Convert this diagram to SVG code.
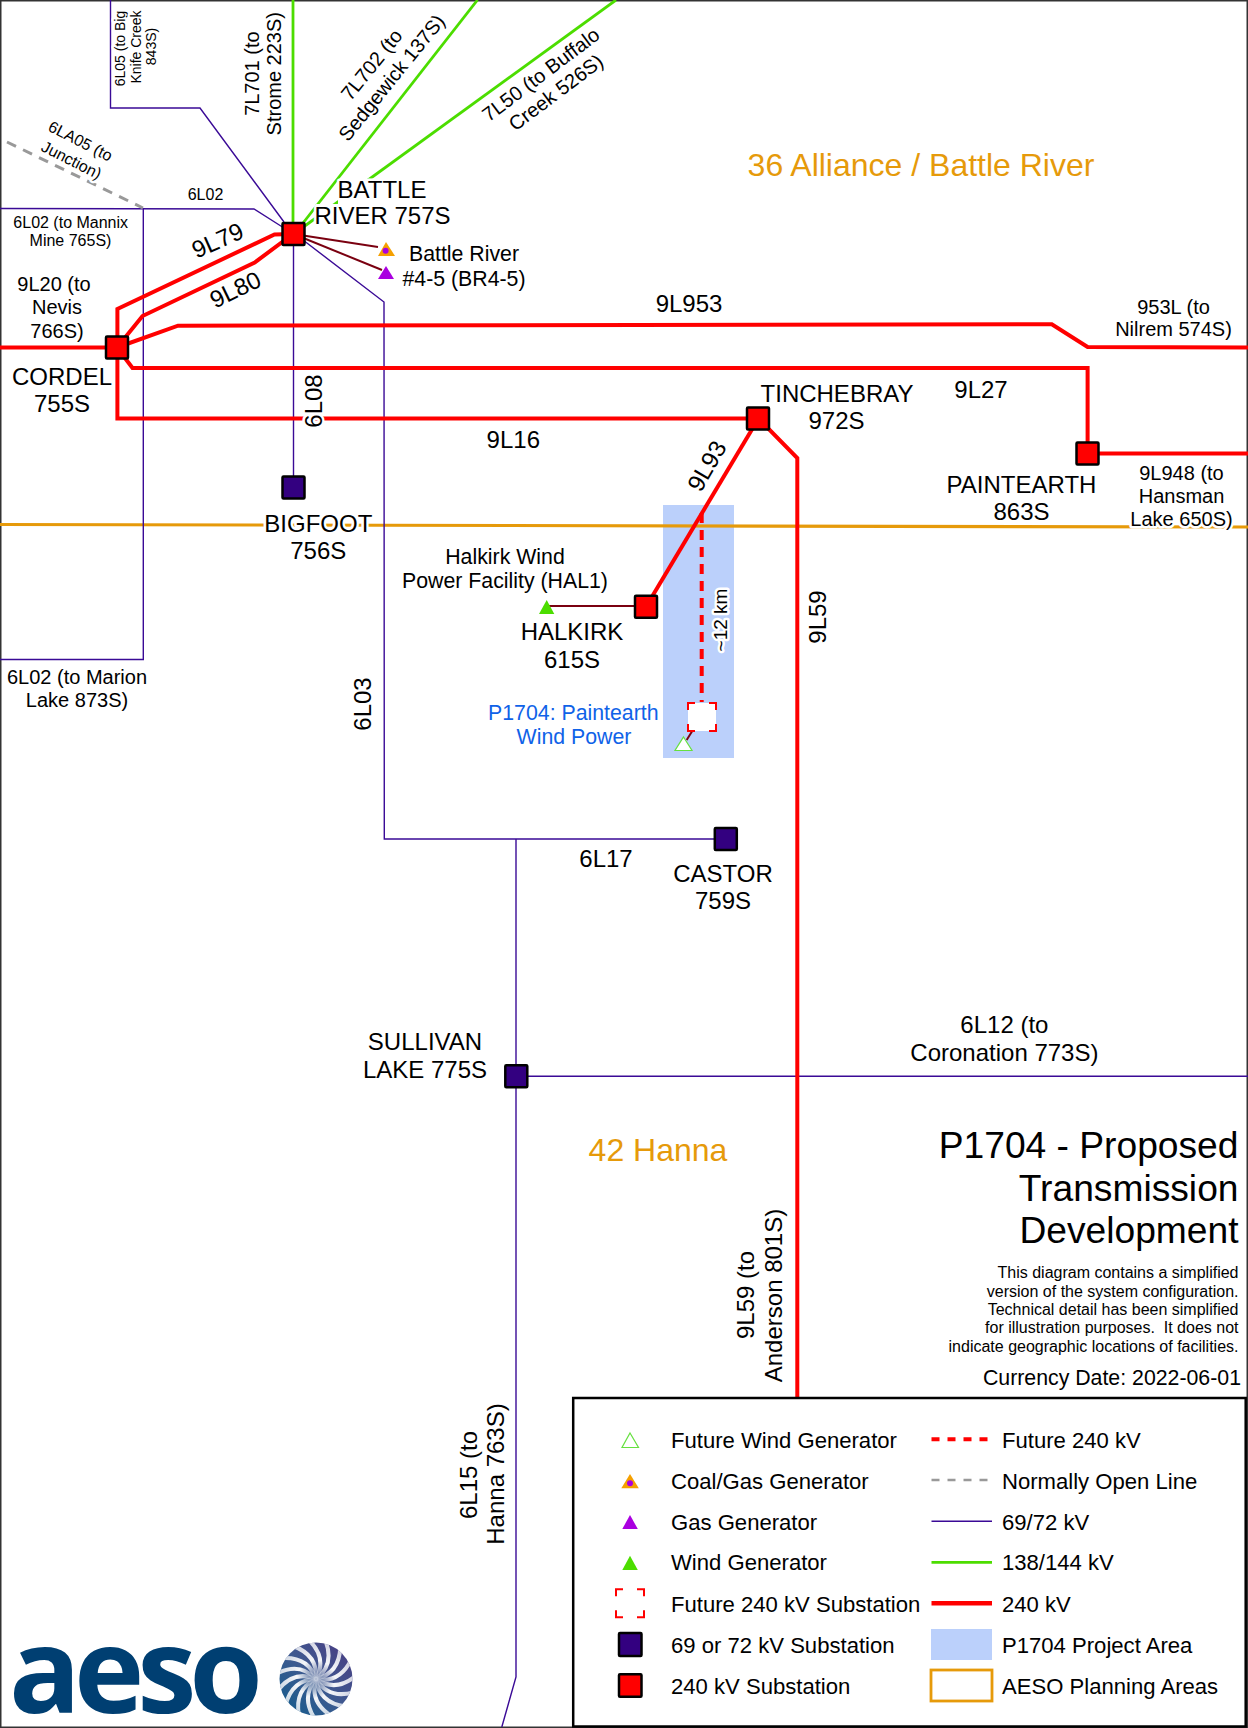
<svg xmlns="http://www.w3.org/2000/svg" width="1248" height="1728" viewBox="0 0 1248 1728">
<style>
text{font-family:"Liberation Sans",Arial,sans-serif;fill:#000;text-anchor:middle;font-size:24px}
.h{paint-order:stroke;stroke:#fff;stroke-width:5px;stroke-linejoin:round}
.s14{font-size:14px}.s16{font-size:16px}.s19{font-size:19px}.s20{font-size:20px}.s21{font-size:21.3px}
.l{text-anchor:start;font-size:22.1px}
.r{text-anchor:end}
.t{font-size:37.2px}
.area{fill:#E69A0A;font-size:32px}
.proj{fill:#0F62E8;font-size:21.3px}
line,polyline{fill:none}
.v240{stroke:#FF0000;stroke-width:4}
.v240f{stroke:#FF0000;stroke-width:4;stroke-dasharray:10 7}
.v138{stroke:#4CDD00;stroke-width:2.8}
.v69{stroke:#3A0A96;stroke-width:1.4}
.no{stroke:#999;stroke-width:3;stroke-dasharray:10 7.8}
.gen{stroke:#7A0010;stroke-width:2}
.bd{stroke:#E69A0A;stroke-width:3.2}
.n240{fill:#FF0000;stroke:#000;stroke-width:2.5}
.n69{fill:#330080;stroke:#000;stroke-width:2.5}
.fc{fill:none;stroke:#FF0000;stroke-width:2}
.twind{fill:#4CDD00}.tgas{fill:#AA00E0}.tcoal{fill:#F5A000}
.tfut{fill:#fff;stroke:#66E040;stroke-width:1.2}
</style>
<defs>
<rect id="sub" x="-11" y="-11" width="22" height="22" rx="1"/>
<path id="fcorn" d="M-14 -7V-14H-7M7 -14H14V-7M14 7V14H7M-7 14H-14V7"/>
<linearGradient id="disc" x1="0" y1="1" x2="1" y2="0"><stop offset="0" stop-color="#0F5C8C"/><stop offset="0.5" stop-color="#3F5A90"/><stop offset="1" stop-color="#4A3A82"/></linearGradient>
<linearGradient id="pg" gradientUnits="userSpaceOnUse" x1="0" y1="0" x2="-22" y2="-32"><stop offset="0" stop-color="#fff" stop-opacity="0.1"/><stop offset="0.45" stop-color="#fff" stop-opacity="0.95"/><stop offset="1" stop-color="#fff" stop-opacity="0.75"/></linearGradient>
<path id="petal" d="M0 0Q2 -24 -23 -33" fill="none" stroke="url(#pg)" stroke-width="4"/>
<clipPath id="dclip"><circle cx="316" cy="1679" r="36.5"/></clipPath>
</defs>
<rect width="1248" height="1728" fill="#fff"/>
<rect x="0.75" y="0.75" width="1246.5" height="1726.5" fill="none" stroke="#333" stroke-width="1.5"/>
<rect id="project-area" x="663" y="505" width="71" height="253" fill="#BBD0FB"/>
<g id="connectors">
<polyline class="bd" points="0,524.5 1248,527"/>
<polyline class="v69" points="110.5,0 110.5,108 200,108 284,222"/>
<polyline class="v69" points="0,208.5 254,209 284,228"/>
<polyline class="v69" points="0,659.5 143.3,659.5 143.3,208.5"/>
<line class="v69" x1="293.5" y1="234" x2="293.5" y2="487"/>
<polyline class="v69" points="303,240 384,302 384.3,839 726,839"/>
<polyline class="v69" points="516,839 516,1677 501.8,1727"/>
<line class="v69" x1="516" y1="1076.3" x2="1248" y2="1076.3"/>
<line class="no" x1="7" y1="142" x2="143" y2="208"/>
<line class="v138" x1="293" y1="0" x2="293" y2="234"/>
<line class="v138" x1="477.5" y1="0" x2="296" y2="232"/>
<line class="v138" x1="616" y1="0" x2="302" y2="228"/>
<polyline class="v240" points="0,347.5 117,347.5"/>
<polyline class="v240" points="293,234 274.5,234.5 117.4,309 117.4,347.5"/>
<polyline class="v240" points="293,234 254.7,262.5 142.5,316 117,347.5"/>
<polyline class="v240" points="117,347.5 178,325.7 1051.8,324.3 1087.6,347 1248,347.5"/>
<polyline class="v240" points="117,347.5 132.5,368 1087.6,368 1087.6,453.5"/>
<line class="v240" x1="1088" y1="453.5" x2="1248" y2="453.5"/>
<polyline class="v240" points="117.4,347.5 117.4,418.5 758.5,418.5"/>
<line class="v240" x1="758.5" y1="418.5" x2="646" y2="606.7"/>
<polyline class="v240" points="758.5,418.5 797.3,458 797.3,1398"/>
<line class="v240f" x1="701.7" y1="513" x2="701.7" y2="702"/>
<line class="gen" x1="293.5" y1="234" x2="378" y2="247"/>
<line class="gen" x1="293.5" y1="234" x2="382" y2="270"/>
<line class="gen" x1="546" y1="606" x2="646" y2="606"/>
<line class="gen" x1="696" y1="725" x2="686.7" y2="740"/>
</g>
<g id="node-battle-river"><rect x="338" y="179" width="90" height="25" fill="#fff"/><rect x="316" y="204" width="135" height="25" fill="#fff"/><use href="#sub" class="n240" x="293.5" y="234"/><text class="h" x="382" y="197.5">BATTLE</text><text class="h" x="382.5" y="224">RIVER 757S</text></g>
<g id="gen-battle-river"><polygon class="tcoal" points="386,242 395,256 378,256"/><circle cx="385.6" cy="250.7" r="3" fill="#AA00E0"/><polygon class="tgas" points="386,266 394,279 378,279"/><text class="h s21" x="464" y="261.4">Battle River</text><text class="h s21" x="464" y="285.7">#4-5 (BR4-5)</text></g>
<g id="node-cordel"><use href="#sub" class="n240" x="117" y="347.5"/><text class="h" x="62" y="385">CORDEL</text><text class="h" x="62" y="412.4">755S</text></g>
<g id="node-bigfoot"><use href="#sub" class="n69" x="293.5" y="487.5"/><text class="h" x="318.3" y="532">BIGFOOT</text><text class="h" x="318.3" y="558.5">756S</text></g>
<g id="node-tinchebray"><use href="#sub" class="n240" x="758" y="418.5"/><text class="h" x="837" y="401.8">TINCHEBRAY</text><text class="h" x="836.5" y="428.6">972S</text></g>
<g id="node-paintearth"><use href="#sub" class="n240" x="1087.5" y="453.5"/><text class="h" x="1021.5" y="493">PAINTEARTH</text><text class="h" x="1021.5" y="519.6">863S</text></g>
<g id="node-halkirk"><use href="#sub" class="n240" x="646" y="606.7"/><polygon class="twind" points="546.7,600 554.3,614 539,614"/><text class="h s21" x="505" y="564">Halkirk Wind</text><text class="h s21" x="505" y="588">Power Facility (HAL1)</text><text class="h" x="572" y="640">HALKIRK</text><text class="h" x="572" y="667.7">615S</text></g>
<g id="node-p1704"><rect x="688" y="703" width="28" height="28" fill="#fff"/><use href="#fcorn" class="fc" x="702" y="717"/><polygon class="tfut" points="683.5,737 692,750.5 675,750.5"/><text class="proj" x="573.3" y="720">P1704: Paintearth</text><text class="proj" x="574" y="744">Wind Power</text><text class="h s19" transform="rotate(-90 726.7 620)" x="726.7" y="620">~12 km</text></g>
<g id="node-castor"><use href="#sub" class="n69" x="725.8" y="839"/><text class="h" x="723" y="881.7">CASTOR</text><text class="h" x="723" y="909">759S</text></g>
<g id="node-sullivan"><use href="#sub" class="n69" x="516.3" y="1076.3"/><text class="h" x="425" y="1050">SULLIVAN</text><text class="h" x="425" y="1077.5">LAKE 775S</text></g>
<g id="labels">
<text class="h s14" transform="rotate(-90 125 48.5)" x="125" y="48.5">6L05 (to Big</text>
<text class="h s14" transform="rotate(-90 140.5 47)" x="140.5" y="47">Knife Creek</text>
<text class="h s14" transform="rotate(-90 156 46.5)" x="156" y="46.5">843S)</text>
<text class="h s20" transform="rotate(-90 258.6 73.6)" x="258.6" y="73.6">7L701 (to</text>
<text class="h s20" transform="rotate(-90 281.3 73.7)" x="281.3" y="73.7">Strome 223S)</text>
<text class="h s20" transform="rotate(-51 377 69)" x="377" y="69">7L702 (to</text>
<text class="h s20" transform="rotate(-51 397 82)" x="397" y="82">Sedgewick 137S)</text>
<text class="h s20" transform="rotate(-37 545 80)" x="545" y="80">7L50 (to Buffalo</text>
<text class="h s20" transform="rotate(-37 560 98)" x="560" y="98">Creek 526S)</text>
<text class="h s16" transform="rotate(27 78 146)" x="78" y="146">6LA05 (to</text>
<text class="h s16" transform="rotate(27 69 165)" x="69" y="165">Junction)</text>
<text class="h s16" x="205.5" y="200">6L02</text>
<text class="h s16" x="70.7" y="228">6L02 (to Mannix</text>
<text class="h s16" x="70.5" y="245.7">Mine 765S)</text>
<text class="h" transform="rotate(-24 221 248)" x="221" y="248">9L79</text>
<text class="h" transform="rotate(-26 239 297)" x="239" y="297">9L80</text>
<text class="h s20" x="54" y="291">9L20 (to</text>
<text class="h s20" x="57" y="314">Nevis</text>
<text class="h s20" x="57" y="337.5">766S)</text>
<text class="h" transform="rotate(-90 322 401)" x="322" y="401">6L08</text>
<text class="h" x="513.3" y="447.5">9L16</text>
<text class="h" x="689" y="312">9L953</text>
<text class="h s20" x="1173.5" y="313.6">953L (to</text>
<text class="h s20" x="1173.5" y="336.4">Nilrem 574S)</text>
<text class="h" x="981" y="398">9L27</text>
<text class="h" transform="rotate(-60 714 470)" x="714" y="470">9L93</text>
<text class="h s20" x="1181.5" y="480.4">9L948 (to</text>
<text class="h s20" x="1181.5" y="503">Hansman</text>
<text class="h s20" x="1181.5" y="526">Lake 650S)</text>
<text class="h s20" x="77" y="684">6L02 (to Marion</text>
<text class="h s20" x="77" y="707">Lake 873S)</text>
<text class="h" transform="rotate(-90 371 704)" x="371" y="704">6L03</text>
<text class="h" transform="rotate(-90 826 617)" x="826" y="617">9L59</text>
<text class="h" x="606" y="866.7">6L17</text>
<text class="h" x="1004.4" y="1033">6L12 (to</text>
<text class="h" x="1004.4" y="1061">Coronation 773S)</text>
<text class="h" transform="rotate(-90 754.3 1295)" x="754.3" y="1295">9L59 (to</text>
<text class="h" transform="rotate(-90 781.7 1295.5)" x="781.7" y="1295.5">Anderson 801S)</text>
<text class="h" transform="rotate(-90 476.5 1475)" x="476.5" y="1475">6L15 (to</text>
<text class="h" transform="rotate(-90 503.5 1474)" x="503.5" y="1474">Hanna 763S)</text>
<text class="area" x="921" y="175.7">36 Alliance / Battle River</text>
<text class="area" x="658" y="1160.7">42 Hanna</text>
</g>
<g id="title">
<text class="r t" x="1238.5" y="1158">P1704 - Proposed</text>
<text class="r t" x="1238.5" y="1201">Transmission</text>
<text class="r t" x="1238.5" y="1243">Development</text>
<text class="r s16" x="1238.5" y="1278.3">This diagram contains a simplified</text>
<text class="r s16" x="1238.5" y="1296.7">version of the system configuration.</text>
<text class="r s16" x="1238.5" y="1315">Technical detail has been simplified</text>
<text class="r s16" x="1238.5" y="1333" xml:space="preserve">for illustration purposes.  It does not</text>
<text class="r s16" x="1238.5" y="1351.7">indicate geographic locations of facilities.</text>
<text class="r s21" x="1241" y="1385">Currency Date: 2022-06-01</text>
</g>
<g id="legend">
<rect x="573.2" y="1398" width="672.5" height="328.5" fill="#fff" stroke="#000" stroke-width="2.5"/>
<polygon class="tfut" points="630,1433 638.5,1447.5 622,1447.5"/>
<polygon class="tcoal" points="630,1474 638.8,1488.3 621.3,1488.3"/><circle cx="630" cy="1483.3" r="3" fill="#AA00E0"/>
<polygon class="tgas" points="630,1515 637.8,1529 622.3,1529"/>
<polygon class="twind" points="630,1555.7 637.8,1570 622.3,1570"/>
<use href="#fcorn" class="fc" x="630" y="1603.3"/>
<rect class="n69" x="619" y="1633" width="22.5" height="23" rx="1"/>
<rect class="n240" x="619" y="1674.2" width="22.5" height="22.5" rx="1"/>
<text class="l" x="671" y="1447.7">Future Wind Generator</text>
<text class="l" x="671" y="1489">Coal/Gas Generator</text>
<text class="l" x="671" y="1530">Gas Generator</text>
<text class="l" x="671" y="1570">Wind Generator</text>
<text class="l" x="671" y="1611.5">Future 240 kV Substation</text>
<text class="l" x="671" y="1652.7">69 or 72 kV Substation</text>
<text class="l" x="671" y="1694">240 kV Substation</text>
<line x1="931.5" y1="1439.3" x2="990" y2="1439.3" stroke="#f00" stroke-width="4" stroke-dasharray="8 8"/>
<line class="no" x1="931.5" y1="1480" x2="990" y2="1480" style="stroke-width:2.5;stroke-dasharray:8 8"/>
<line class="v69" x1="931.5" y1="1521.3" x2="992" y2="1521.3"/>
<line class="v138" x1="931.5" y1="1562.3" x2="992" y2="1562.3"/>
<line class="v240" x1="931.5" y1="1603.3" x2="992" y2="1603.3" style="stroke-width:4.5"/>
<rect x="931" y="1629" width="61" height="31" fill="#BBD0FB"/>
<rect x="931" y="1670" width="61" height="31" fill="#fff" stroke="#E69A0A" stroke-width="2.8"/>
<text class="l" x="1002" y="1447.7">Future 240 kV</text>
<text class="l" x="1002" y="1489">Normally Open Line</text>
<text class="l" x="1002" y="1530">69/72 kV</text>
<text class="l" x="1002" y="1570">138/144 kV</text>
<text class="l" x="1002" y="1611.5">240 kV</text>
<text class="l" x="1002" y="1652.7">P1704 Project Area</text>
<text class="l" x="1002" y="1694">AESO Planning Areas</text>
</g>
<g id="logo">
<text x="9" y="1712.5" style="font-family:'Open Sans','Noto Sans',sans-serif;font-weight:700;font-size:119px;letter-spacing:-7px;fill:#003F72;text-anchor:start">aeso</text>
<circle cx="316" cy="1679" r="36.5" fill="url(#disc)"/>
<g clip-path="url(#dclip)">
<g transform="translate(316 1679)">
<use href="#petal"/><use href="#petal" transform="rotate(24)"/><use href="#petal" transform="rotate(48)"/><use href="#petal" transform="rotate(72)"/><use href="#petal" transform="rotate(96)"/><use href="#petal" transform="rotate(120)"/><use href="#petal" transform="rotate(144)"/><use href="#petal" transform="rotate(168)"/><use href="#petal" transform="rotate(192)"/><use href="#petal" transform="rotate(216)"/><use href="#petal" transform="rotate(240)"/><use href="#petal" transform="rotate(264)"/><use href="#petal" transform="rotate(288)"/><use href="#petal" transform="rotate(312)"/><use href="#petal" transform="rotate(336)"/>
</g></g>
</g>
</svg>
